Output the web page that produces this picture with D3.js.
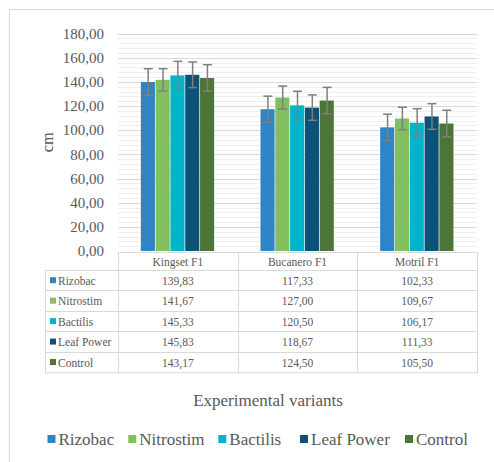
<!DOCTYPE html>
<html>
<head>
<meta charset="utf-8">
<script src="https://cdn.jsdelivr.net/npm/d3@7/dist/d3.min.js"></script>
<style>
  html, body { margin: 0; padding: 0; background: #fff; }
  svg { display: block; }
</style>
</head>
<body>
<svg id="chart" width="494" height="462"></svg>
<script>
const categories = ["Kingset F1", "Bucanero F1", "Motril F1"];
const seriesNames = ["Rizobac", "Nitrostim", "Bactilis", "Leaf Power", "Control"];
const seriesColors = ["#2e84c4", "#82bf5f", "#00b4cb", "#0c5177", "#4e7538"];
const rizobac   = [139.83, 117.33, 102.33];
const nitrostim = [141.67, 127.00, 109.67];
const bactilis  = [145.33, 120.50, 106.17];
const leafPower = [145.83, 118.67, 111.33];
const control   = [143.17, 124.50, 105.50];
const errRizobac   = [11.0, 10.8, 10.9];
const errNitrostim = [9.2, 9.5, 9.3];
const errBactilis  = [11.6, 11.7, 11.6];
const errLeafPower = [10.6, 10.5, 10.6];
const errControl   = [11.0, 10.9, 11.0];
const yTicks = [0, 20, 40, 60, 80, 100, 120, 140, 160, 180];
const yTitle = "cm";
const xTitle = "Experimental variants";

const values = [rizobac, nitrostim, bactilis, leafPower, control];
const errors = [errRizobac, errNitrostim, errBactilis, errLeafPower, errControl];
const fmt = v => v.toFixed(2).replace(".", ",");
const FONT = "'Liberation Serif', 'Times New Roman', Times, serif";
const TXT = "#595959";

const svg = d3.select("#chart").attr("font-family", FONT);
const label = (sel) => sel.attr("font-family", FONT).attr("fill", TXT);

// chart frame
svg.append("rect").attr("x", 9.5).attr("y", 9.5).attr("width", 600).attr("height", 600)
  .attr("fill", "none").attr("stroke", "#d9d9d9").attr("stroke-width", 1);

const plotL = 118, plotR = 477, plotT = 33.5, plotB = 251;
const y = d3.scaleLinear().domain([0, 180]).range([plotB, plotT]);
const x = d3.scaleBand().domain(categories).range([plotL, plotR]).paddingInner(0).paddingOuter(0);
const groupW = 74;
const xs = d3.scaleBand().domain(seriesNames).range([0, groupW]).padding(0);

// minor gridlines
const minor = d3.range(0, 181, 4).filter(v => v % 20 !== 0);
svg.append("g").selectAll("line").data(minor).join("line")
  .attr("x1", plotL).attr("x2", plotR)
  .attr("y1", d => Math.round(y(d)) + 0.5).attr("y2", d => Math.round(y(d)) + 0.5)
  .attr("stroke", "#efefef").attr("stroke-width", 1);
// major gridlines
svg.append("g").selectAll("line").data(yTicks.filter(v => v > 0)).join("line")
  .attr("x1", plotL).attr("x2", plotR)
  .attr("y1", d => Math.round(y(d)) + 0.5).attr("y2", d => Math.round(y(d)) + 0.5)
  .attr("stroke", "#d9d9d9").attr("stroke-width", 1);

// y tick labels
svg.append("g").selectAll("text").data(yTicks).join("text")
  .call(label)
  .attr("x", 104).attr("y", d => y(d)).attr("dy", "0.35em")
  .attr("text-anchor", "end").attr("font-size", 15)
  .text(d => fmt(d));

// y title
svg.append("text").call(label)
  .attr("transform", "translate(47," + ((plotT + plotB) / 2) + ") rotate(-90)")
  .attr("text-anchor", "middle").attr("dy", "0.35em").attr("font-size", 16.5).text(yTitle);

// bars
const barData = [];
categories.forEach((c, ci) => seriesNames.forEach((s, si) => {
  barData.push({ c, s, si, v: values[si][ci], e: errors[si][ci] });
}));
const gx = c => x(c) + (x.bandwidth() - groupW) / 2;
svg.append("g").selectAll("rect").data(barData).join("rect")
  .attr("x", d => gx(d.c) + xs(d.s))
  .attr("width", xs.bandwidth() - 0.7)
  .attr("y", d => y(d.v)).attr("height", d => plotB - y(d.v))
  .attr("fill", d => seriesColors[d.si]);

// error bars
const eb = svg.append("g").attr("stroke", "#7f7f7f").attr("stroke-width", 1.5);
barData.forEach(d => {
  const cx = gx(d.c) + xs(d.s) + xs.bandwidth() / 2;
  const t = y(d.v + d.e), b = y(d.v - d.e);
  eb.append("line").attr("x1", cx).attr("x2", cx).attr("y1", t).attr("y2", b);
  eb.append("line").attr("x1", cx - 4.5).attr("x2", cx + 4.5).attr("y1", t).attr("y2", t);
  eb.append("line").attr("x1", cx - 4.5).attr("x2", cx + 4.5).attr("y1", b).attr("y2", b);
});

// data table
const tblL = 45, hdrT = 252, hdrB = 270, rowH = 20.45;
const tb = svg.append("g");
const border = "#d9d9d9";
tb.append("rect").attr("x", plotL + 0.5).attr("y", hdrT + 0.5).attr("width", plotR - plotL)
  .attr("height", hdrB - hdrT).attr("fill", "none").attr("stroke", border);
const bodyB = hdrB + rowH * seriesNames.length;
tb.append("rect").attr("x", tblL + 0.5).attr("y", hdrB + 0.5).attr("width", plotR - tblL)
  .attr("height", bodyB - hdrB).attr("fill", "none").attr("stroke", border);
seriesNames.forEach((s, i) => {
  if (i > 0) tb.append("line").attr("x1", tblL).attr("x2", plotR)
    .attr("y1", Math.round(hdrB + rowH * i) + 0.5).attr("y2", Math.round(hdrB + rowH * i) + 0.5)
    .attr("stroke", border);
});
[plotL, ...categories.slice(1).map(c => x(c))].forEach(xx => {
  tb.append("line").attr("x1", Math.round(xx) + 0.5).attr("x2", Math.round(xx) + 0.5)
    .attr("y1", hdrT).attr("y2", bodyB).attr("stroke", border);
});
tb.selectAll("text.hdr").data(categories).join("text").attr("class", "hdr").call(label)
  .attr("x", d => x(d) + x.bandwidth() / 2).attr("y", (hdrT + hdrB) / 2 + 1).attr("dy", "0.35em")
  .attr("text-anchor", "middle").attr("font-size", 11.5).text(d => d);
seriesNames.forEach((s, i) => {
  const cy = hdrB + rowH * i + rowH / 2 + 0.5;
  tb.append("rect").attr("x", 50).attr("y", cy - 3.5).attr("width", 6).attr("height", 6)
    .attr("fill", seriesColors[i]);
  tb.append("text").call(label).attr("x", 58).attr("y", cy).attr("dy", "0.35em")
    .attr("font-size", 11.5).text(s);
  categories.forEach((c, ci) => {
    tb.append("text").call(label).attr("x", x(c) + x.bandwidth() / 2).attr("y", cy).attr("dy", "0.35em")
      .attr("text-anchor", "middle").attr("font-size", 11.5).text(fmt(values[i][ci]));
  });
});

// x title
svg.append("text").call(label).attr("x", 268).attr("y", 400).attr("dy", "0.35em")
  .attr("text-anchor", "middle").attr("font-size", 17).text(xTitle);

// legend
const legX = [47.5, 128.3, 218.3, 300, 405];
const lg = svg.append("g");
seriesNames.forEach((s, i) => {
  lg.append("rect").attr("x", legX[i]).attr("y", 435).attr("width", 8).attr("height", 8)
    .attr("fill", seriesColors[i]);
  lg.append("text").call(label).attr("x", legX[i] + 11).attr("y", 439).attr("dy", "0.35em")
    .attr("font-size", 17).text(s);
});
</script>
</body>
</html>
